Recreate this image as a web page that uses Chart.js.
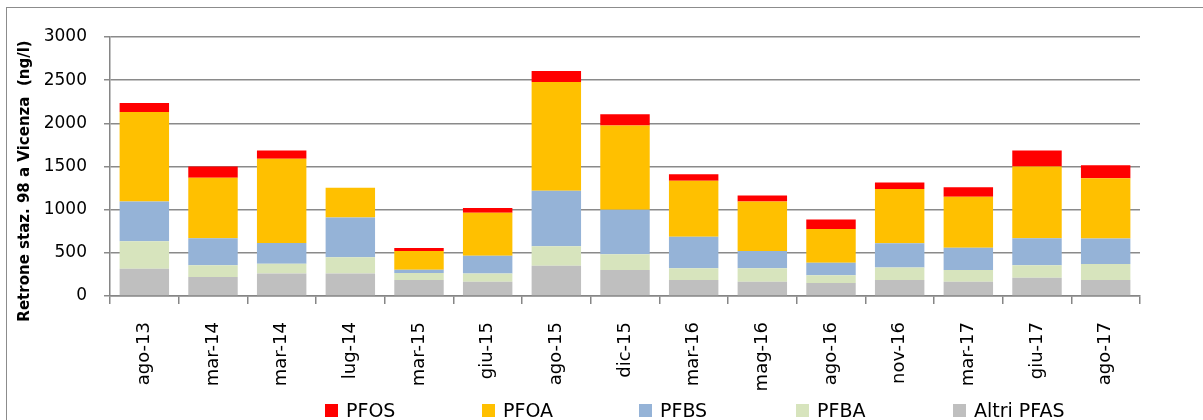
<!DOCTYPE html>
<html>
<head>
<meta charset="utf-8">
<script src="https://cdn.jsdelivr.net/npm/chart.js@4.4.1/dist/chart.umd.min.js"></script>
<style>
  html, body { margin: 0; padding: 0; background: #fff; overflow: hidden; }
  #frame { position: absolute; left: 6px; top: 7px; width: 1300px; height: 500px; border: 1px solid #8c8c8c; }
  #wrap { position: absolute; left: 0; top: 0; width: 1203px; height: 420px; }
  #legend { position: absolute; left: 325px; top: 399px; display: flex; font-family: "DejaVu Sans", sans-serif; font-size: 19px; color: #000; }
  #legend .item { width: 157px; display: flex; align-items: center; white-space: nowrap; }
  #legend .sw { width: 13px; height: 13px; margin-right: 8px; }
</style>
</head>
<body>
<div id="frame"></div>
<div id="wrap"><canvas id="chart" width="1203" height="420"></canvas></div>
<div id="legend"></div>
<script>
const labels = ['ago-13', 'mar-14', 'mar-14', 'lug-14', 'mar-15', 'giu-15', 'ago-15', 'dic-15',
                'mar-16', 'mag-16', 'ago-16', 'nov-16', 'mar-17', 'giu-17', 'ago-17'];

// ng/l, stacked from bottom up
const altriPfas = [315, 220, 260, 260, 185, 165, 350, 300, 185, 165, 150, 185, 165, 210, 185];
const pfba      = [320, 135, 115, 190,  80,  95, 225, 185, 135, 155,  90, 145, 135, 145, 185];
const pfbs      = [460, 315, 240, 460,  40, 205, 645, 515, 365, 200, 145, 280, 260, 315, 295];
const pfoa      = [1035, 700, 975, 345, 215, 500, 1260, 975, 650, 575, 390, 630, 590, 830, 700];
const pfos      = [105, 130,  95,   0,  35,  55, 125, 130,  75,  70, 110,  75, 110, 185, 150];

const yTicks = [0, 500, 1000, 1500, 2000, 2500, 3000];
const yTitle = 'Retrone staz. 98 a Vicenza  (ng/l)';

const series = [
  { label: 'Altri PFAS', data: altriPfas, color: '#BFBFBF' },
  { label: 'PFBA',       data: pfba,      color: '#D7E4BD' },
  { label: 'PFBS',       data: pfbs,      color: '#95B3D7' },
  { label: 'PFOA',       data: pfoa,      color: '#FFC000' },
  { label: 'PFOS',       data: pfos,      color: '#FF0000' },
];

// legend in Excel order (top of stack first)
const legend = document.getElementById('legend');
series.slice().reverse().forEach(s => {
  const it = document.createElement('div');
  it.className = 'item';
  it.innerHTML = `<span class="sw" style="background:${s.color}"></span><span>${s.label}</span>`;
  legend.appendChild(it);
});

const titlePlugin = {
  id: 'yTitle',
  afterDraw(chart) {
    const ctx = chart.ctx;
    ctx.save();
    ctx.translate(25, 181);
    ctx.rotate(-Math.PI / 2);
    ctx.font = 'bold 15px "DejaVu Sans"';
    ctx.fillStyle = '#000';
    ctx.textAlign = 'center';
    ctx.textBaseline = 'middle';
    ctx.fillText(yTitle, 0, 0);
    ctx.restore();
  }
};

new Chart(document.getElementById('chart'), {
  type: 'bar',
  data: {
    labels: labels,
    datasets: series.map(s => ({
      label: s.label,
      data: s.data,
      backgroundColor: s.color,
      borderWidth: 0,
      barPercentage: 0.72,
      categoryPercentage: 1,
    }))
  },
  options: {
    responsive: false,
    devicePixelRatio: 1,
    animation: false,
    layout: { padding: { left: 0, right: 63, top: 37, bottom: 0 } },
    plugins: {
      legend: { display: false },
      tooltip: { enabled: false }
    },
    scales: {
      x: {
        stacked: true,
        afterFit: s => { s.height = 124; },
        grid: { drawOnChartArea: false, drawTicks: true, tickLength: 8, color: '#868686', lineWidth: 1.5 },
        border: { color: '#868686', width: 1.5 },
        ticks: {
          autoSkip: false, maxRotation: 90, minRotation: 90, padding: 18,
          color: '#000', font: { family: 'DejaVu Sans', size: 18 }
        }
      },
      y: {
        stacked: true,
        min: 0,
        max: 3000,
        afterFit: s => { s.width = 110; },
        afterBuildTicks: s => { s.ticks = yTicks.map(v => ({ value: v })); },
        grid: { color: '#8a8a8a', lineWidth: 1.5, tickLength: 6 },
        border: { color: '#868686', width: 1.5 },
        ticks: {
          padding: 17, color: '#000', font: { family: 'DejaVu Sans', size: 17 },
          callback: v => String(v)
        }
      }
    }
  },
  plugins: [titlePlugin]
});
</script>
</body>
</html>
